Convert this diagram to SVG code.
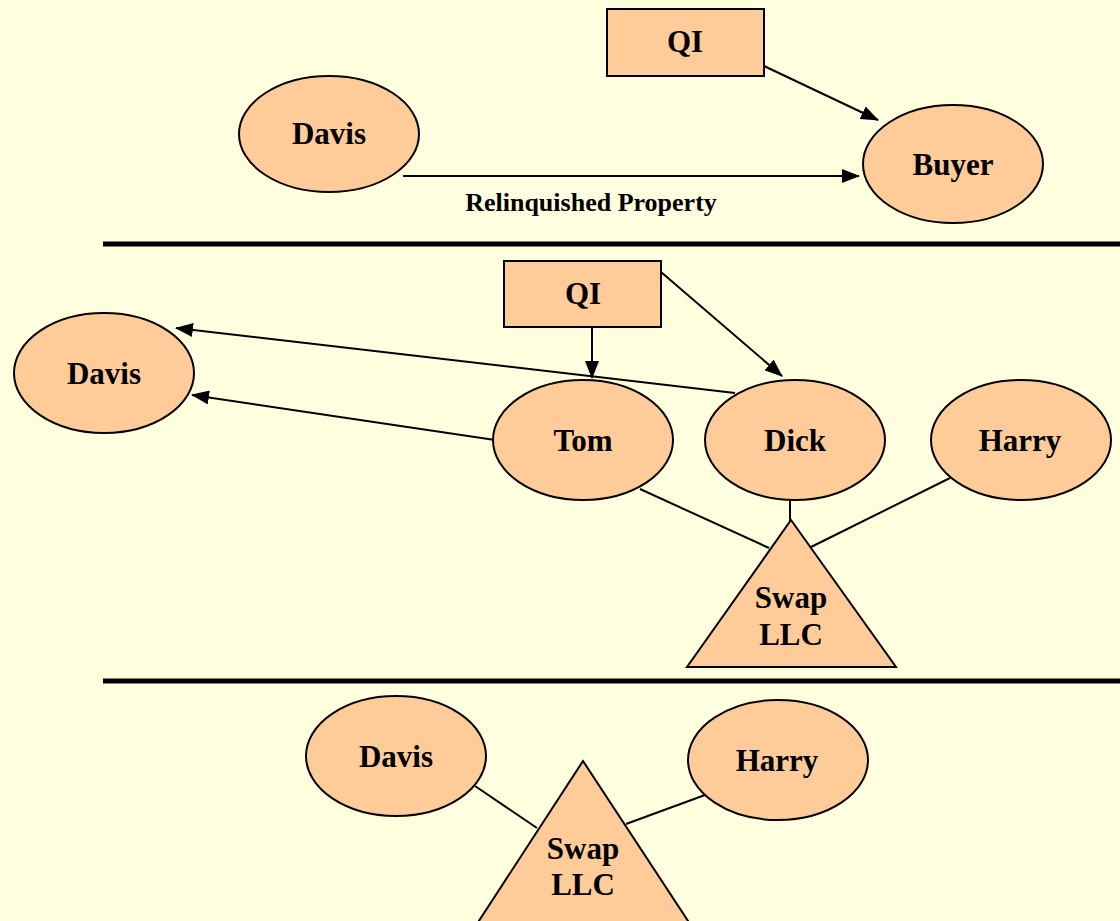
<svg xmlns="http://www.w3.org/2000/svg" width="1120" height="921" viewBox="0 0 1120 921">
  <defs>
    <marker id="arrow" markerWidth="18" markerHeight="14" refX="17" refY="7" orient="auto" markerUnits="userSpaceOnUse">
      <path d="M0,0 L18,7 L0,14 Z" fill="#000"/>
    </marker>
    <style>
      .node { fill: #FFCC99; stroke: #000; stroke-width: 2; }
      .lbl { font-family: "Liberation Serif", "Times New Roman", serif; font-weight: bold; font-size: 31px; text-anchor: middle; fill: #000; }
      .small { font-size: 26px; }
      .edge { stroke: #000; stroke-width: 2; fill: none; }
      .arrow { marker-end: url(#arrow); }
      .divider { stroke: #000; stroke-width: 5; }
    </style>
  </defs>

  <rect x="0" y="0" width="1120" height="921" fill="#FFFFE0"/>

  <!-- section dividers -->
  <line class="divider" x1="103" y1="244" x2="1120" y2="244"/>
  <line class="divider" x1="103" y1="681" x2="1120" y2="681"/>

  <!-- connectors -->
  <g id="connectors">
    <!-- upper panel -->
    <line class="edge arrow" x1="403" y1="176" x2="859" y2="176"/>
    <line class="edge arrow" x1="764" y1="66" x2="878" y2="120"/>
    <!-- middle panel -->
    <line class="edge arrow" x1="592" y1="327" x2="592" y2="378"/>
    <line class="edge arrow" x1="661" y1="272" x2="782" y2="376"/>
    <line class="edge arrow" x1="735" y1="393" x2="176" y2="328"/>
    <line class="edge arrow" x1="495" y1="440" x2="192" y2="395"/>
    <line class="edge" x1="640" y1="489" x2="769" y2="548"/>
    <line class="edge" x1="790" y1="500" x2="790" y2="522"/>
    <line class="edge" x1="950" y1="478" x2="811" y2="547"/>
    <!-- lower panel -->
    <line class="edge" x1="475" y1="786" x2="537" y2="828"/>
    <line class="edge" x1="705" y1="795" x2="626" y2="824"/>
  </g>

  <!-- upper panel -->
  <g id="qi-top">
    <rect class="node" x="607" y="9" width="157" height="67"/>
    <text class="lbl" x="685" y="52">QI</text>
  </g>
  <g id="davis-top">
    <ellipse class="node" cx="329" cy="134" rx="90" ry="58"/>
    <text class="lbl" x="329" y="144">Davis</text>
  </g>
  <g id="buyer">
    <ellipse class="node" cx="953" cy="164" rx="90" ry="59"/>
    <text class="lbl" x="953" y="175">Buyer</text>
  </g>
  <text class="lbl small" x="591" y="211">Relinquished Property</text>

  <!-- middle panel -->
  <g id="qi-mid">
    <rect class="node" x="504" y="261" width="157" height="66"/>
    <text class="lbl" x="583" y="304">QI</text>
  </g>
  <g id="davis-mid">
    <ellipse class="node" cx="104" cy="373" rx="90" ry="60"/>
    <text class="lbl" x="104" y="384">Davis</text>
  </g>
  <g id="tom">
    <ellipse class="node" cx="583" cy="440" rx="90" ry="60"/>
    <text class="lbl" x="583" y="451">Tom</text>
  </g>
  <g id="dick">
    <ellipse class="node" cx="795" cy="440" rx="90" ry="60"/>
    <text class="lbl" x="795" y="451">Dick</text>
  </g>
  <g id="harry-mid">
    <ellipse class="node" cx="1021" cy="440" rx="90" ry="60"/>
    <text class="lbl" x="1020" y="451">Harry</text>
  </g>
  <g id="swap-mid">
    <polygon class="node" points="791,520 896,667 687,667"/>
    <text class="lbl" x="791" y="608">Swap</text>
    <text class="lbl" x="791" y="645">LLC</text>
  </g>

  <!-- lower panel -->
  <g id="davis-bottom">
    <ellipse class="node" cx="396" cy="756" rx="90" ry="60"/>
    <text class="lbl" x="396" y="767">Davis</text>
  </g>
  <g id="harry-bottom">
    <ellipse class="node" cx="778" cy="760" rx="90" ry="60"/>
    <text class="lbl" x="777" y="771">Harry</text>
  </g>
  <g id="swap-bottom">
    <polygon class="node" points="583,761 694,930 473,930"/>
    <text class="lbl" x="583" y="859">Swap</text>
    <text class="lbl" x="583" y="895">LLC</text>
  </g>
</svg>
